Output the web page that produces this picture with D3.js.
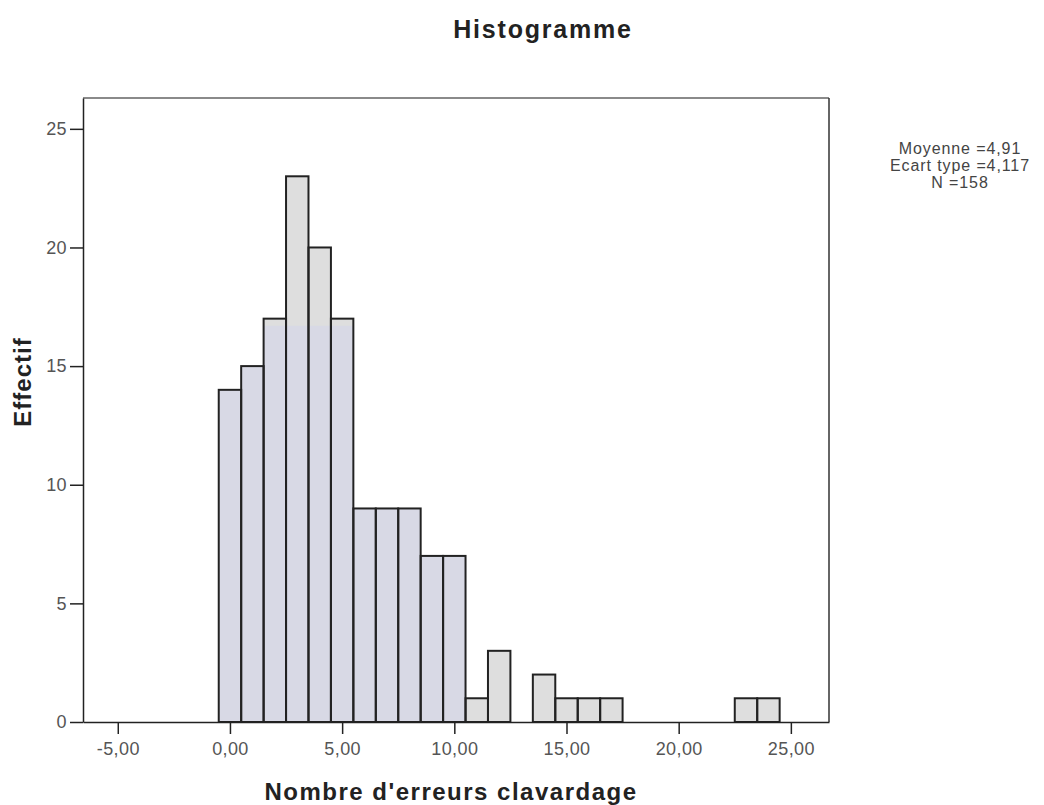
<!DOCTYPE html>
<html>
<head>
<meta charset="utf-8">
<script src="https://cdn.jsdelivr.net/npm/d3@7"></script>
<style>
  body { margin: 0; background: #fff; }
  svg { display: block; }
</style>
</head>
<body>
<svg id="chart" width="1044" height="805"></svg>
<script>
// bin centres (width 1) and frequencies
const binCenters = [0, 1, 2, 3, 4, 5, 6, 7, 8, 9, 10, 11, 12, 13, 14, 15, 16, 17, 18, 19, 20, 21, 22, 23, 24];
const counts = [14, 15, 17, 23, 20, 17, 9, 9, 9, 7, 7, 1, 3, 0, 2, 1, 1, 1, 0, 0, 0, 0, 0, 1, 1];
const xTicks = [-5, 0, 5, 10, 15, 20, 25];
const yTicks = [0, 5, 10, 15, 20, 25];
const statLines = ['Moyenne =4,91', 'Ecart type =4,117', 'N =158'];

const svg = d3.select('#chart');
const fmt = d => d3.format('.2f')(d).replace('.', ',').replace('\u2212', '-');

const x = d3.scaleLinear().domain([-6.55, 26.7]).range([83, 829]);
const y = d3.scaleLinear().domain([0, 26.3]).range([722, 98]);

const font = 'Liberation Sans, Arial, sans-serif';

// frame
svg.append('line')
    .attr('x1', x.range()[0]).attr('x2', x.range()[1])
    .attr('y1', y.range()[1]).attr('y2', y.range()[1])
    .attr('stroke', '#8a8a8a').attr('stroke-width', 2);
svg.append('line')
    .attr('x1', x.range()[1]).attr('x2', x.range()[1])
    .attr('y1', y.range()[1]).attr('y2', y.range()[0])
    .attr('stroke', '#333').attr('stroke-width', 1.5);

const data = binCenters.map((c, i) => ({ c: c, n: counts[i] })).filter(d => d.n > 0);

// bars
const bars = svg.append('g');
bars.selectAll('rect.bar')
    .data(data)
    .enter().append('rect')
    .attr('class', 'bar')
    .attr('x', d => x(d.c - 0.5))
    .attr('y', d => y(d.n))
    .attr('width', d => x(d.c + 0.5) - x(d.c - 0.5))
    .attr('height', d => y(0) - y(d.n))
    .attr('fill', '#dedede');

// bluish tint of the scan on the lower part of the first bins
bars.selectAll('rect.tint')
    .data(data.filter(d => d.c <= 10))
    .enter().append('rect')
    .attr('class', 'tint')
    .attr('x', d => x(d.c - 0.5))
    .attr('y', d => y(Math.min(d.n, 16.7)))
    .attr('width', d => x(d.c + 0.5) - x(d.c - 0.5))
    .attr('height', d => y(0) - y(Math.min(d.n, 16.7)))
    .attr('fill', '#d8d9e5');

bars.selectAll('rect.outline')
    .data(data)
    .enter().append('rect')
    .attr('class', 'outline')
    .attr('x', d => x(d.c - 0.5))
    .attr('y', d => y(d.n))
    .attr('width', d => x(d.c + 0.5) - x(d.c - 0.5))
    .attr('height', d => y(0) - y(d.n))
    .attr('fill', 'none')
    .attr('stroke', '#222')
    .attr('stroke-width', 2);

// axes
const xAxis = svg.append('g')
    .attr('transform', `translate(0,${y(0)})`)
    .call(d3.axisBottom(x).tickValues(xTicks).tickFormat(fmt).tickSize(12).tickSizeOuter(0));
const yAxis = svg.append('g')
    .attr('transform', `translate(${x.range()[0]},0)`)
    .call(d3.axisLeft(y).tickValues(yTicks).tickSize(13).tickSizeOuter(0));

[xAxis, yAxis].forEach(a => {
    a.select('.domain').attr('stroke', '#222').attr('stroke-width', 1.5);
    a.selectAll('.tick line').attr('stroke', '#222').attr('stroke-width', 1.5);
    a.selectAll('.tick text')
        .attr('font-family', font).attr('font-size', 18).attr('fill', '#555')
        .attr('letter-spacing', 0.4);
});
xAxis.selectAll('.tick text').attr('dy', '1em');

// titles
svg.append('text')
    .attr('x', 543).attr('y', 38)
    .attr('text-anchor', 'middle')
    .attr('font-family', font).attr('font-size', 25).attr('font-weight', 'bold')
    .attr('letter-spacing', 1.8)
    .attr('fill', '#222')
    .text('Histogramme');

svg.append('text')
    .attr('x', 451).attr('y', 800)
    .attr('text-anchor', 'middle')
    .attr('font-family', font).attr('font-size', 24).attr('font-weight', 'bold')
    .attr('letter-spacing', 1.5)
    .attr('fill', '#222')
    .text("Nombre d'erreurs clavardage");

svg.append('text')
    .attr('transform', 'translate(31,382) rotate(-90)')
    .attr('text-anchor', 'middle')
    .attr('font-family', font).attr('font-size', 24).attr('font-weight', 'bold')
    .attr('letter-spacing', 1)
    .attr('fill', '#222')
    .text('Effectif');

// statistics box
svg.append('g').selectAll('text')
    .data(statLines)
    .enter().append('text')
    .attr('x', 960)
    .attr('y', (d, i) => 154 + i * 17)
    .attr('text-anchor', 'middle')
    .attr('font-family', font).attr('font-size', 16)
    .attr('letter-spacing', 0.9)
    .attr('fill', '#444')
    .text(d => d);
</script>
</body>
</html>
